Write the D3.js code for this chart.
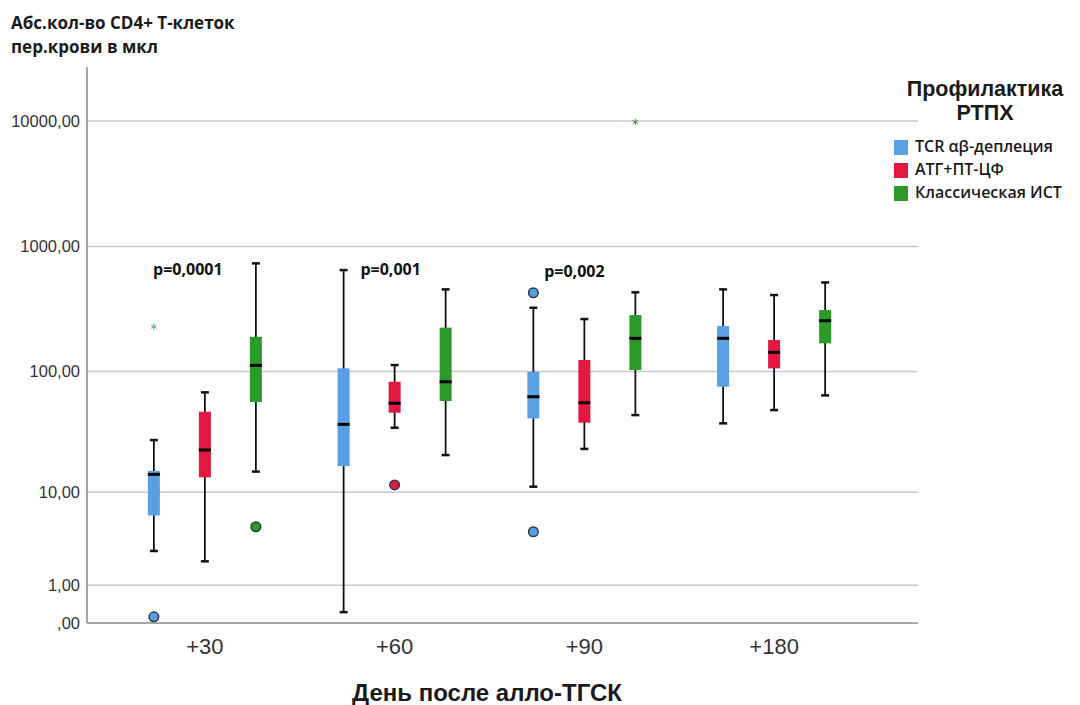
<!DOCTYPE html>
<html>
<head>
<meta charset="utf-8">
<script src="https://cdn.jsdelivr.net/npm/d3@7/dist/d3.min.js"></script>
<style>
  html, body { margin: 0; padding: 0; background: #fff; }
  svg { display: block; }
</style>
</head>
<body>
<svg id="chart" width="1080" height="705"></svg>
<script>
// ---------- data ----------
const categories = ["+30", "+60", "+90", "+180"];
const seriesNames = ["TCR αβ-деплеция", "АТГ+ПТ-ЦФ", "Классическая ИСТ"];
const seriesColors = ["#5a9fe6", "#e3173f", "#2b9a2b"];

// [whiskerLow, Q1, median, Q3, whiskerHigh] per category
const tcrStats = [[2.75, 6.2, 14.3, 15.3, 27.7], [0.22, 16.8, 37.3, 106, 649], [11.2, 41.7, 62.6, 99.6, 324.5], [38, 75.4, 184.7, 231.7, 455]];
const atgStats = [[2.1, 13.5, 22.9, 47.3, 67.9], [35, 46.4, 55.4, 82.7, 112.7], [23.4, 38.5, 56, 123.7, 263.5], [48.8, 106, 142.6, 179, 410]];
const istStats = [[15.1, 56.7, 112, 190, 734], [20.8, 57.8, 82.7, 225, 455], [44.4, 102.8, 184.7, 283.5, 431], [64.2, 168.4, 255.5, 311, 517]];

// outliers: series index, category, value, kind
const outlierSeries = [0, 0, 2, 1, 0, 0, 2];
const outlierCats = ["+30", "+30", "+30", "+60", "+90", "+90", "+90"];
const outlierValues = [0.12, 229, 4.85, 11.6, 428, 4.34, 9830];
const outlierKinds = ["circle", "star", "circle", "circle", "circle", "circle", "star"];

const yTicks = [0, 1, 10, 100, 1000, 10000];
const pLabels = ["p=0,0001", "p=0,001", "p=0,002"];
const pCats = ["+30", "+60", "+90"];
const pValuesY = [640, 640, 620];

const yTitle = ["Абс.кол-во CD4+ Т-клеток", "пер.крови в мкл"];
const xTitle = "День после алло-ТГСК";
const legendTitle = ["Профилактика", "РТПХ"];

// ---------- layout ----------
const svg = d3.select("#chart");
const plotLeft = 87, plotRight = 918, plotTop = 67, plotBottom = 623;

const x = d3.scaleBand().domain(categories).range([110, 869]).padding(0);
const xs = d3.scalePoint().domain(d3.range(seriesNames.length)).range([0, x.bandwidth()]).padding(0.86);
const y = d3.scaleSymlog().constant(1).domain([0, 27000]).range([plotBottom, plotTop]);

const fmt = d => d === 0 ? ",00" : d.toFixed(2).replace(".", ",");

// gridlines
svg.append("g")
  .selectAll("line").data(yTicks.filter(d => d > 0)).join("line")
  .attr("x1", plotLeft).attr("x2", plotRight)
  .attr("y1", d => y(d)).attr("y2", d => y(d))
  .attr("stroke", "#c9c9c9").attr("stroke-width", 1.5);

// y axis
const yAxis = svg.append("g")
  .attr("transform", `translate(${plotLeft},0)`)
  .call(d3.axisLeft(y).tickValues(yTicks).tickFormat(fmt).tickSize(0).tickPadding(7));
yAxis.select(".domain").attr("stroke", "#888").attr("stroke-width", 1.5)
  .attr("d", `M0,${plotTop}V${plotBottom}`);
yAxis.selectAll("text").attr("font-family", "'Liberation Sans', Arial, sans-serif")
  .attr("font-size", 16.5).attr("fill", "#333");

// x axis
const xAxis = svg.append("g")
  .attr("transform", `translate(0,${plotBottom})`)
  .call(d3.axisBottom(x).tickSize(0).tickPadding(15));
xAxis.select(".domain").attr("stroke", "#888").attr("stroke-width", 1.5)
  .attr("d", `M${plotLeft},0H${plotRight}`);
xAxis.selectAll("text").attr("font-family", "'Liberation Sans', Arial, sans-serif")
  .attr("font-size", 22).attr("fill", "#333");

// boxes
const allStats = [tcrStats, atgStats, istStats];
const boxW = 12, capW = 8;
const boxData = [];
allStats.forEach((st, si) => st.forEach((s, ci) => boxData.push({ si, cat: categories[ci], s })));

const g = svg.append("g");
const bx = d => x(d.cat) + xs(d.si);

g.selectAll("line.whisker").data(boxData).join("line")
  .attr("x1", bx).attr("x2", bx)
  .attr("y1", d => y(d.s[0])).attr("y2", d => y(d.s[4]))
  .attr("stroke", "#111").attr("stroke-width", 1.8);
g.selectAll("line.capLo").data(boxData).join("line")
  .attr("x1", d => bx(d) - capW / 2).attr("x2", d => bx(d) + capW / 2)
  .attr("y1", d => y(d.s[0])).attr("y2", d => y(d.s[0]))
  .attr("stroke", "#111").attr("stroke-width", 2.5);
g.selectAll("line.capHi").data(boxData).join("line")
  .attr("x1", d => bx(d) - capW / 2).attr("x2", d => bx(d) + capW / 2)
  .attr("y1", d => y(d.s[4])).attr("y2", d => y(d.s[4]))
  .attr("stroke", "#111").attr("stroke-width", 2.5);
g.selectAll("rect.box").data(boxData).join("rect")
  .attr("x", d => bx(d) - boxW / 2).attr("width", boxW)
  .attr("y", d => y(d.s[3])).attr("height", d => y(d.s[1]) - y(d.s[3]))
  .attr("fill", d => seriesColors[d.si]);
g.selectAll("line.median").data(boxData).join("line")
  .attr("x1", d => bx(d) - boxW / 2).attr("x2", d => bx(d) + boxW / 2)
  .attr("y1", d => y(d.s[2])).attr("y2", d => y(d.s[2]))
  .attr("stroke", "#000").attr("stroke-width", 3);

// outliers
const outliers = outlierValues.map((v, i) => ({ si: outlierSeries[i], cat: outlierCats[i], v, kind: outlierKinds[i] }));
g.selectAll("circle.out").data(outliers.filter(d => d.kind === "circle")).join("circle")
  .attr("cx", bx).attr("cy", d => y(d.v)).attr("r", 4.8)
  .attr("fill", d => seriesColors[d.si]).attr("stroke", "#2a3a4a").attr("stroke-width", 1.5);
const starColors = ["#4aa89a", "#e3173f", "#3fa040"];
g.selectAll("path.star").data(outliers.filter(d => d.kind === "star")).join("path")
  .attr("transform", d => `translate(${bx(d)},${y(d.v)})`)
  .attr("d", d3.symbol(d3.symbolAsterisk, 28))
  .attr("fill", "none").attr("stroke", d => starColors[d.si]).attr("stroke-width", 1);

// p-value labels
const pOffsets = [-17, -4, -10];
svg.append("g").selectAll("text").data(pLabels).join("text")
  .attr("x", (d, i) => x(pCats[i]) + x.bandwidth() / 2 + pOffsets[i])
  .attr("y", (d, i) => y(pValuesY[i]))
  .attr("text-anchor", "middle").attr("dominant-baseline", "middle")
  .attr("font-family", "'Open Sans', sans-serif").attr("font-weight", 700)
  .attr("font-size", 16).attr("fill", "#111")
  .text(d => d);

// y title
svg.append("g").selectAll("text").data(yTitle).join("text")
  .attr("x", 11).attr("y", (d, i) => 29 + i * 24)
  .attr("font-family", "'Open Sans', sans-serif").attr("font-weight", 700)
  .attr("font-size", 17).attr("fill", "#1a1a1a")
  .text(d => d);

// x title
svg.append("text")
  .attr("x", 487).attr("y", 701)
  .attr("text-anchor", "middle")
  .attr("font-family", "'Liberation Sans', Arial, sans-serif").attr("font-weight", 700)
  .attr("font-size", 24).attr("fill", "#1a1a1a")
  .text(xTitle);

// legend
const lg = svg.append("g");
lg.selectAll("text.lt").data(legendTitle).join("text")
  .attr("x", 985).attr("y", (d, i) => 96 + i * 24)
  .attr("text-anchor", "middle")
  .attr("font-family", "'Liberation Sans', Arial, sans-serif").attr("font-weight", 700)
  .attr("font-size", 21.5).attr("fill", "#1a1a1a")
  .text(d => d);
const li = lg.selectAll("g.item").data(seriesNames).join("g")
  .attr("transform", (d, i) => `translate(894,${140 + i * 23})`);
li.append("rect").attr("width", 14).attr("height", 15).attr("fill", (d, i) => seriesColors[i]);
li.append("text").attr("x", 21).attr("y", 8).attr("dominant-baseline", "middle")
  .attr("font-family", "'Open Sans', sans-serif").attr("font-weight", 600)
  .attr("font-size", 16).attr("fill", "#1a1a1a")
  .text(d => d);
</script>
</body>
</html>
